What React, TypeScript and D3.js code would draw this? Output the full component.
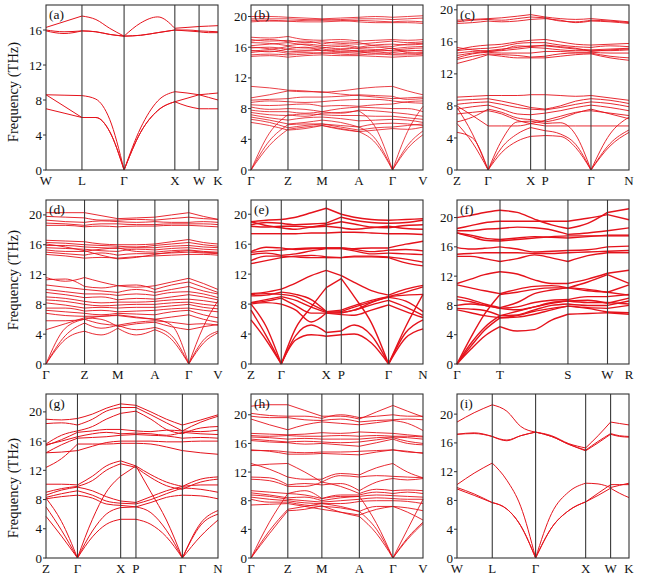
import React from 'react'
import * as d3 from 'd3'

type Band = number[]

// (a) W-L-Γ-X-W-K
const aLabels = ['W', 'L', 'Γ', 'X', 'W', 'K']
const aSym = [0, 0.209, 0.454, 0.749, 0.89, 1]
const aGrid = [0, 0.105, 0.209, 0.29, 0.37, 0.454, 0.55, 0.65, 0.749, 0.82, 0.89, 0.945, 1]
const aBands: Band[] = [
  [7.0, 6.5, 6.0, 6.0, 4.4, 0, 4.3, 6.8, 7.8, 7.3, 7.0, 7.0, 7.0],
  [8.6, 7.3, 6.0, 6.0, 4.4, 0, 4.3, 6.8, 7.8, 8.2, 8.6, 8.7, 8.8],
  [8.6, 8.55, 8.5, 8.1, 5.8, 0, 4.8, 7.9, 8.95, 8.8, 8.6, 8.3, 8.0],
  [16.3, 16.95, 17.6, 17.2, 16.2, 15.3, 16.8, 17.5, 16.2, 16.3, 16.4, 16.45, 16.5],
  [15.9, 15.6, 15.9, 15.8, 15.5, 15.3, 15.4, 15.7, 16.0, 16.0, 15.9, 15.85, 15.8],
  [16.0, 15.8, 15.9, 15.8, 15.5, 15.3, 15.4, 15.7, 16.0, 15.9, 15.8, 15.7, 15.7],
]

// (b) Γ-Z-M-A-Γ-V
const bLabels = ['Γ', 'Z', 'M', 'A', 'Γ', 'V']
const bSym = [0, 0.215, 0.413, 0.627, 0.823, 1]
const bGrid = [0, 0.107, 0.215, 0.314, 0.413, 0.52, 0.627, 0.725, 0.823, 0.91, 1]
const bBands: Band[] = [
  [20.0, 20.0, 19.9, 19.8, 19.7, 19.8, 19.9, 20.0, 19.9, 20.0, 20.1],
  [19.7, 19.7, 19.7, 19.6, 19.5, 19.6, 19.7, 19.7, 19.6, 19.7, 19.8],
  [19.5, 19.5, 19.4, 19.3, 19.3, 19.4, 19.5, 19.4, 19.3, 19.4, 19.3],
  [19.3, 19.4, 19.4, 19.5, 19.6, 19.5, 19.3, 19.2, 19.2, 19.2, 19.1],
  [17.3, 17.2, 17.4, 17.0, 16.9, 17.0, 16.8, 16.9, 17.0, 16.9, 17.0],
  [17.0, 16.8, 16.9, 16.6, 16.7, 16.5, 16.4, 16.6, 16.8, 16.6, 16.7],
  [16.6, 16.5, 16.2, 16.4, 16.2, 16.3, 16.0, 16.3, 16.4, 16.3, 16.4],
  [16.2, 16.4, 16.6, 16.3, 16.0, 15.8, 15.9, 16.0, 15.8, 16.0, 16.1],
  [15.9, 16.0, 15.7, 15.6, 15.8, 15.5, 15.6, 15.5, 15.6, 15.8, 15.9],
  [15.6, 15.4, 15.8, 16.0, 15.5, 15.7, 15.4, 15.2, 15.3, 15.5, 15.6],
  [15.3, 15.5, 15.2, 15.3, 15.2, 15.3, 15.2, 15.4, 15.1, 15.2, 15.3],
  [15.0, 15.1, 15.0, 15.1, 15.3, 15.1, 15.0, 15.1, 15.0, 15.0, 15.1],
  [14.8, 14.9, 14.7, 14.9, 15.0, 14.9, 14.9, 14.8, 14.7, 14.8, 14.9],
  [16.8, 17.0, 16.7, 16.8, 16.4, 16.7, 16.6, 16.2, 16.1, 16.4, 16.5],
  [15.5, 15.7, 16.1, 15.9, 15.9, 16.1, 15.8, 15.7, 15.5, 15.6, 15.5],
  [16.0, 15.8, 15.4, 15.5, 15.6, 15.4, 15.4, 15.6, 15.9, 15.3, 15.2],
  [10.9, 10.7, 10.4, 10.3, 10.1, 10.3, 10.6, 10.8, 10.9, 10.3, 9.8],
  [9.4, 9.8, 10.3, 10.2, 10.2, 9.9, 9.7, 9.5, 9.3, 9.4, 9.5],
  [9.1, 9.2, 9.3, 9.5, 9.5, 9.6, 9.8, 9.7, 9.6, 9.2, 9.3],
  [8.8, 9.0, 8.9, 8.8, 8.9, 9.1, 9.2, 9.2, 9.0, 8.8, 8.7],
  [8.5, 8.4, 8.5, 8.6, 8.3, 8.4, 8.3, 8.5, 8.6, 8.9, 9.0],
  [8.2, 7.9, 8.0, 7.9, 7.6, 8.0, 8.2, 8.1, 8.0, 8.0, 7.6],
  [7.8, 7.6, 7.6, 7.4, 7.6, 7.4, 7.8, 7.7, 7.5, 7.3, 7.0],
  [7.5, 7.2, 7.1, 7.3, 7.2, 7.1, 7.1, 7.0, 7.0, 6.8, 6.6],
  [7.2, 6.8, 6.5, 6.8, 6.9, 6.7, 6.4, 6.5, 6.6, 6.5, 6.2],
  [6.9, 6.5, 6.0, 6.2, 6.5, 6.2, 5.6, 6.0, 6.1, 6.0, 5.8],
  [6.6, 6.2, 5.5, 5.8, 6.0, 5.6, 5.2, 5.5, 5.6, 5.8, 6.0],
  [6.2, 5.8, 5.2, 5.4, 5.8, 5.3, 5.0, 5.2, 5.4, 5.3, 5.6],
  [0, 3.2, 5.3, 5.6, 5.8, 5.4, 5.0, 3.5, 0, 2.8, 4.6],
  [0, 3.8, 5.9, 6.0, 6.0, 5.8, 5.6, 4.0, 0, 3.2, 5.1],
  [0, 4.8, 7.2, 7.0, 7.4, 7.5, 7.7, 5.5, 0, 5.0, 8.3],
]

// (c) Z-Γ-X-P-Γ-N
const cLabels = ['Z', 'Γ', 'X', 'P', 'Γ', 'N']
const cSym = [0, 0.181, 0.428, 0.513, 0.779, 1]
const cGrid = [0, 0.09, 0.181, 0.26, 0.35, 0.428, 0.513, 0.6, 0.69, 0.779, 0.89, 1]
const cBands: Band[] = [
  [18.7, 18.8, 18.9, 19.0, 19.2, 19.4, 19.1, 18.9, 18.8, 18.9, 18.7, 18.5],
  [18.5, 18.7, 18.8, 18.7, 18.9, 19.1, 19.0, 18.6, 18.5, 18.7, 18.6, 18.4],
  [18.3, 18.4, 18.6, 18.5, 18.6, 18.8, 18.9, 18.7, 18.4, 18.6, 18.5, 18.3],
  [15.0, 15.4, 15.6, 15.7, 16.0, 16.2, 16.3, 16.0, 15.7, 15.6, 15.7, 15.8],
  [14.9, 15.1, 15.2, 15.4, 15.8, 15.9, 15.9, 15.6, 15.4, 15.3, 15.5, 15.4],
  [14.6, 14.8, 14.9, 15.1, 15.3, 15.5, 15.5, 15.3, 15.1, 15.0, 15.1, 15.2],
  [14.3, 14.6, 14.8, 14.9, 15.1, 15.3, 15.2, 15.0, 14.9, 14.9, 14.9, 15.0],
  [14.0, 14.5, 14.7, 14.6, 14.6, 14.6, 14.8, 14.8, 14.7, 14.7, 14.6, 14.6],
  [13.8, 14.2, 14.5, 14.4, 14.3, 14.1, 14.2, 14.5, 14.6, 14.6, 14.2, 14.0],
  [13.3, 13.8, 14.4, 14.2, 14.0, 14.0, 14.0, 14.2, 14.4, 14.5, 14.0, 13.7],
  [15.3, 15.0, 14.8, 15.0, 15.5, 15.4, 15.6, 15.4, 15.2, 14.8, 15.0, 15.1],
  [9.1, 9.2, 9.3, 9.3, 9.3, 9.4, 9.4, 9.3, 9.2, 9.3, 9.0, 8.7],
  [8.7, 8.8, 8.9, 8.6, 8.2, 7.8, 7.6, 8.0, 8.6, 8.9, 8.7, 8.3],
  [8.2, 8.4, 8.5, 8.2, 7.8, 7.6, 7.5, 7.8, 8.2, 8.5, 8.3, 7.9],
  [7.6, 7.9, 8.1, 7.6, 7.0, 6.9, 7.1, 7.4, 7.8, 8.1, 7.8, 7.4],
  [8.0, 6.8, 5.5, 5.5, 5.5, 5.8, 5.5, 5.5, 5.5, 5.5, 5.5, 5.5],
  [6.0, 6.6, 7.6, 7.2, 6.5, 6.3, 6.0, 6.4, 7.1, 7.6, 7.0, 6.4],
  [7.0, 7.2, 7.4, 7.0, 6.2, 5.8, 6.2, 6.7, 7.2, 7.4, 7.1, 6.8],
  [4.7, 4.0, 0, 2.2, 3.6, 4.2, 4.3, 4.2, 2.8, 0, 3.0, 4.7],
  [5.8, 3.4, 0, 2.8, 4.5, 5.3, 4.9, 4.5, 3.2, 0, 3.3, 5.0],
  [7.8, 4.5, 0, 3.7, 6.0, 6.1, 5.8, 5.9, 4.4, 0, 4.5, 6.6],
]

// (d) Γ-Z-M-A-Γ-V
const dLabels = ['Γ', 'Z', 'M', 'A', 'Γ', 'V']
const dSym = [0, 0.224, 0.417, 0.633, 0.83, 1]
const dGrid = [0, 0.112, 0.224, 0.32, 0.417, 0.525, 0.633, 0.73, 0.83, 0.915, 1]
const dBands: Band[] = [
  [20.3, 20.3, 20.3, 19.9, 19.5, 19.6, 19.7, 20.0, 20.3, 19.8, 19.4],
  [19.8, 19.7, 19.6, 19.3, 19.3, 19.4, 19.3, 19.5, 19.7, 19.5, 19.4],
  [19.3, 19.1, 19.0, 19.2, 19.1, 19.0, 19.1, 19.0, 19.0, 19.1, 19.0],
  [18.9, 18.8, 18.6, 18.8, 18.8, 18.7, 18.7, 18.8, 18.8, 18.8, 18.7],
  [18.6, 18.6, 18.4, 18.5, 18.4, 18.5, 18.5, 18.6, 18.6, 18.5, 18.4],
  [16.6, 16.5, 16.4, 16.1, 16.0, 16.0, 16.1, 16.4, 16.7, 16.3, 16.1],
  [16.3, 16.2, 16.0, 15.9, 15.8, 15.7, 15.9, 16.1, 16.3, 16.0, 15.8],
  [15.9, 15.9, 15.7, 15.6, 15.5, 15.6, 15.6, 15.8, 15.9, 15.7, 15.6],
  [15.6, 15.5, 15.4, 15.2, 15.1, 15.4, 15.3, 15.5, 15.6, 15.4, 15.3],
  [15.3, 15.1, 15.1, 15.4, 15.6, 15.1, 15.0, 15.2, 15.3, 15.1, 15.0],
  [15.0, 14.8, 14.6, 14.9, 14.6, 14.8, 14.8, 14.9, 15.0, 14.9, 14.8],
  [14.7, 14.5, 14.2, 14.3, 14.2, 14.4, 14.5, 14.6, 14.7, 14.7, 14.6],
  [16.1, 15.7, 15.2, 14.6, 14.1, 14.3, 14.7, 15.0, 15.2, 15.0, 14.9],
  [11.6, 11.1, 11.6, 11.0, 10.5, 10.3, 10.5, 11.0, 11.5, 10.8, 10.0],
  [11.3, 11.4, 10.4, 10.2, 10.5, 10.6, 10.0, 10.6, 11.0, 10.3, 9.6],
  [10.6, 10.3, 10.0, 9.8, 9.6, 10.0, 9.6, 10.0, 10.4, 9.8, 9.4],
  [10.0, 9.7, 9.4, 9.4, 9.2, 9.4, 9.2, 9.6, 9.7, 9.4, 8.9],
  [9.6, 9.3, 8.9, 9.0, 8.6, 8.8, 8.7, 9.0, 9.3, 9.0, 8.6],
  [9.0, 8.8, 8.4, 8.2, 8.3, 8.3, 8.4, 8.6, 8.7, 8.5, 8.2],
  [8.6, 8.4, 8.0, 7.8, 7.9, 8.0, 8.0, 8.2, 8.3, 8.0, 7.8],
  [8.2, 7.9, 7.5, 7.6, 7.5, 7.6, 7.6, 7.8, 8.0, 7.6, 7.4],
  [7.5, 7.5, 7.1, 7.2, 7.0, 7.1, 7.2, 7.4, 7.5, 7.2, 7.0],
  [7.2, 7.0, 6.8, 6.6, 6.8, 6.7, 6.6, 7.0, 7.2, 6.6, 6.2],
  [6.8, 6.5, 6.4, 6.4, 6.6, 6.3, 6.0, 6.3, 6.6, 6.0, 5.6],
  [5.8, 5.8, 6.0, 5.4, 5.2, 5.6, 5.8, 5.6, 5.3, 5.4, 5.2],
  [4.6, 5.4, 6.2, 6.0, 5.0, 5.4, 5.6, 5.0, 4.6, 5.0, 5.3],
  [0, 3.3, 4.4, 3.9, 4.8, 3.9, 4.6, 3.3, 0, 2.8, 4.2],
  [0, 3.8, 5.5, 4.8, 5.2, 4.6, 4.9, 3.8, 0, 3.2, 4.4],
  [0, 4.8, 6.0, 6.4, 6.5, 6.2, 6.0, 5.2, 0, 5.0, 8.5],
]

// (e) Z-Γ-X-P-Γ-N
const eLabels = ['Z', 'Γ', 'X', 'P', 'Γ', 'N']
const eSym = [0, 0.176, 0.4375, 0.525, 0.8, 1]
const eGrid = [0, 0.088, 0.176, 0.26, 0.35, 0.4375, 0.525, 0.6, 0.7, 0.8, 0.9, 1]
const eBands: Band[] = [
  [19.0, 19.2, 19.3, 19.6, 20.2, 20.8, 20.0, 19.6, 19.3, 19.2, 19.3, 19.4],
  [18.6, 18.9, 18.8, 18.6, 18.7, 18.8, 19.6, 19.2, 18.9, 18.8, 18.9, 19.2],
  [19.0, 18.5, 18.2, 18.0, 18.3, 18.6, 19.0, 18.7, 18.3, 18.2, 18.5, 18.6],
  [18.4, 18.3, 18.4, 18.4, 18.3, 18.4, 18.2, 18.0, 18.2, 18.4, 18.1, 18.0],
  [17.4, 17.4, 17.4, 17.4, 17.5, 17.5, 17.6, 17.6, 17.5, 17.4, 17.4, 17.3],
  [15.0, 15.6, 15.5, 15.3, 15.4, 15.5, 15.5, 15.4, 15.5, 15.5, 16.0, 16.4],
  [14.9, 15.1, 15.2, 15.4, 15.5, 15.5, 15.5, 15.3, 15.0, 15.2, 15.3, 15.1],
  [14.6, 14.8, 14.5, 14.7, 15.1, 15.4, 15.4, 15.1, 14.7, 14.8, 14.7, 14.6],
  [13.8, 14.4, 14.4, 14.3, 14.2, 14.2, 14.2, 14.4, 14.4, 14.3, 14.0, 13.6],
  [13.4, 13.8, 14.2, 14.4, 14.5, 14.3, 14.2, 14.3, 14.3, 14.2, 13.5, 13.1],
  [9.4, 9.6, 10.0, 10.8, 11.8, 12.5, 11.8, 10.9, 9.8, 9.2, 10.0, 10.5],
  [9.3, 9.4, 9.3, 9.0, 8.0, 7.0, 6.9, 7.2, 8.2, 9.0, 9.6, 10.3],
  [9.1, 9.2, 9.6, 9.3, 8.6, 7.0, 7.2, 7.8, 8.5, 9.0, 9.2, 9.3],
  [8.2, 8.6, 9.0, 8.5, 7.6, 6.9, 7.0, 7.6, 8.3, 8.9, 8.4, 7.0],
  [8.2, 8.4, 8.8, 7.8, 6.8, 6.8, 6.8, 7.2, 7.9, 8.5, 7.6, 6.5],
  [8.0, 8.2, 8.0, 7.2, 5.6, 6.8, 6.6, 6.5, 7.2, 7.9, 7.0, 6.2],
  [5.9, 3.2, 0, 3.2, 3.9, 3.7, 3.9, 4.0, 2.8, 0, 3.5, 4.7],
  [7.2, 3.8, 0, 3.8, 5.2, 4.2, 4.4, 5.2, 3.8, 0, 4.2, 5.9],
  [8.0, 5.0, 0, 4.8, 7.6, 10.2, 11.4, 9.0, 5.5, 0, 5.0, 9.3],
]

// (f) Γ-T-S-W-R
const fLabels = ['Γ', 'T', 'S', 'W', 'R']
const fSym = [0, 0.25, 0.645, 0.875, 1]
const fGrid = [0, 0.08, 0.16, 0.25, 0.35, 0.45, 0.55, 0.645, 0.76, 0.875, 1]
const fBands: Band[] = [
  [20.0, 20.3, 20.7, 21.0, 20.7, 19.8, 19.0, 18.5, 19.2, 20.7, 21.2],
  [18.5, 18.9, 19.3, 19.5, 19.5, 19.5, 19.5, 19.5, 19.9, 20.4, 19.7],
  [18.2, 18.2, 18.4, 18.5, 18.7, 18.6, 18.3, 17.7, 17.9, 18.2, 18.6],
  [17.9, 17.6, 17.2, 17.0, 17.2, 17.4, 17.3, 17.2, 17.4, 17.6, 17.6],
  [17.9, 17.4, 16.9, 16.8, 17.0, 17.2, 17.4, 17.5, 17.5, 17.5, 17.5],
  [15.9, 15.7, 15.8, 16.0, 15.7, 15.3, 15.4, 15.5, 15.6, 16.0, 16.1],
  [15.0, 15.1, 15.2, 15.2, 15.2, 15.1, 15.1, 15.2, 15.3, 15.4, 15.5],
  [14.7, 14.7, 14.4, 14.0, 14.4, 14.9, 14.5, 14.0, 14.8, 15.2, 15.2],
  [11.0, 11.6, 12.2, 12.6, 12.3, 11.5, 11.0, 11.0, 11.6, 12.4, 12.8],
  [10.8, 10.4, 10.0, 9.6, 10.2, 10.6, 10.7, 10.4, 11.2, 12.2, 11.0],
  [9.2, 8.8, 8.2, 7.7, 8.4, 9.6, 10.1, 10.4, 10.2, 9.8, 10.8],
  [8.8, 8.5, 8.0, 7.6, 7.8, 8.4, 8.7, 8.8, 9.2, 9.2, 9.5],
  [8.0, 8.2, 8.0, 7.6, 7.4, 7.8, 8.3, 8.6, 8.7, 8.3, 9.0],
  [7.6, 7.5, 7.3, 6.6, 6.7, 7.4, 8.0, 8.2, 8.0, 8.0, 8.6],
  [7.4, 7.0, 6.6, 6.3, 6.4, 6.8, 7.4, 7.9, 7.6, 7.1, 7.0],
  [0, 2.0, 3.8, 5.1, 4.5, 4.7, 6.0, 6.8, 6.9, 7.0, 6.8],
  [0, 2.4, 4.6, 6.3, 6.6, 7.2, 7.6, 7.9, 7.7, 7.6, 8.0],
  [0, 2.8, 5.0, 6.6, 7.2, 7.8, 8.4, 8.6, 8.4, 8.4, 8.2],
  [0, 3.6, 6.8, 9.5, 9.8, 10.2, 10.4, 10.4, 10.0, 9.8, 9.4],
]

// (g) Z-Γ-X-P-Γ-N
const gLabels = ['Z', 'Γ', 'X', 'P', 'Γ', 'N']
const gSym = [0, 0.183, 0.434, 0.523, 0.793, 1]
const gGrid = [0, 0.09, 0.183, 0.27, 0.35, 0.434, 0.523, 0.61, 0.7, 0.793, 0.9, 1]
const gBands: Band[] = [
  [19.0, 18.9, 19.1, 19.7, 20.5, 21.1, 20.9, 20.0, 19.0, 18.2, 18.9, 19.6],
  [18.4, 18.5, 18.2, 19.0, 20.1, 20.6, 20.6, 19.6, 18.5, 17.4, 18.6, 19.4],
  [15.6, 16.8, 17.4, 18.0, 19.0, 19.8, 20.1, 19.0, 17.6, 17.0, 17.8, 18.0],
  [15.4, 16.2, 17.2, 17.4, 17.6, 17.6, 17.4, 17.3, 17.5, 17.4, 17.3, 17.5],
  [15.5, 16.0, 16.6, 17.0, 17.2, 17.0, 17.1, 17.0, 16.8, 17.2, 17.0, 16.9],
  [14.4, 15.5, 16.4, 16.5, 16.6, 16.8, 16.9, 16.8, 16.7, 16.4, 16.5, 16.4],
  [14.4, 14.5, 14.7, 15.3, 15.8, 16.0, 16.0, 16.0, 15.9, 15.9, 16.0, 16.0],
  [12.4, 13.6, 15.6, 15.6, 15.6, 15.7, 15.7, 15.6, 15.2, 14.7, 14.4, 14.2],
  [10.1, 10.1, 10.0, 11.2, 12.6, 13.3, 12.6, 11.4, 10.4, 9.8, 10.8, 11.1],
  [9.0, 9.5, 9.8, 10.6, 12.0, 12.9, 12.4, 11.0, 9.9, 9.4, 10.4, 10.8],
  [8.6, 9.3, 9.7, 9.2, 8.4, 7.8, 7.6, 8.4, 9.2, 9.8, 10.0, 10.0],
  [8.3, 8.8, 9.2, 8.6, 7.8, 7.5, 7.4, 8.0, 8.8, 9.6, 9.4, 9.0],
  [8.1, 8.4, 8.6, 8.2, 7.4, 7.2, 7.0, 7.6, 8.3, 8.6, 8.5, 8.1],
  [5.7, 3.0, 0, 2.9, 4.6, 5.3, 5.3, 4.6, 2.9, 0, 3.0, 5.2],
  [7.0, 3.8, 0, 3.7, 6.0, 6.9, 7.0, 6.2, 3.8, 0, 4.5, 6.0],
  [8.2, 5.0, 0, 5.3, 9.0, 11.2, 12.6, 9.0, 5.2, 0, 4.8, 6.5],
]

// (h) Γ-Z-M-A-Γ-V
const hLabels = ['Γ', 'Z', 'M', 'A', 'Γ', 'V']
const hSym = [0, 0.214, 0.412, 0.63, 0.825, 1]
const hGrid = [0, 0.107, 0.214, 0.313, 0.412, 0.52, 0.63, 0.73, 0.825, 0.91, 1]
const hBands: Band[] = [
  [21.2, 21.4, 21.4, 20.6, 19.8, 19.8, 19.4, 20.4, 21.3, 20.5, 19.7],
  [20.2, 19.9, 19.8, 19.8, 19.5, 20.0, 19.6, 19.8, 20.0, 19.8, 19.8],
  [19.8, 19.6, 19.6, 19.3, 19.2, 19.4, 19.0, 19.2, 19.3, 19.4, 19.3],
  [19.4, 18.6, 17.9, 18.6, 19.0, 18.8, 18.6, 18.9, 19.2, 18.8, 17.8],
  [17.4, 17.3, 17.2, 17.3, 17.5, 17.4, 17.6, 17.5, 17.4, 17.2, 17.0],
  [17.1, 17.0, 17.1, 17.0, 17.0, 17.1, 17.0, 17.1, 17.0, 17.0, 16.9],
  [16.9, 16.8, 16.6, 16.7, 16.6, 16.6, 16.6, 16.8, 16.9, 16.8, 16.6],
  [16.6, 16.4, 16.2, 16.3, 16.2, 16.1, 16.2, 16.5, 16.8, 16.3, 16.0],
  [16.4, 16.2, 16.1, 15.9, 16.0, 15.8, 15.6, 16.1, 16.6, 16.0, 15.8],
  [15.1, 14.9, 14.5, 14.5, 14.6, 14.5, 14.4, 14.8, 15.1, 14.9, 14.6],
  [15.0, 15.0, 14.8, 14.7, 14.8, 14.8, 14.9, 15.0, 15.1, 14.8, 14.7],
  [13.2, 12.4, 11.3, 11.0, 11.0, 11.8, 11.6, 12.6, 13.2, 12.0, 11.2],
  [12.9, 13.1, 13.2, 12.0, 10.6, 11.5, 11.3, 11.5, 11.4, 11.3, 11.2],
  [11.3, 11.2, 10.2, 10.4, 10.2, 10.4, 9.4, 10.6, 11.1, 10.9, 11.1],
  [11.0, 10.8, 10.0, 10.0, 10.6, 10.0, 9.0, 9.6, 9.4, 9.5, 9.4],
  [9.4, 9.2, 9.0, 9.4, 8.3, 8.8, 8.8, 9.2, 9.0, 9.2, 9.0],
  [9.1, 8.8, 8.4, 8.5, 8.0, 8.4, 8.6, 8.8, 8.7, 8.6, 8.5],
  [8.8, 8.6, 8.2, 8.0, 7.8, 8.0, 8.2, 8.4, 8.3, 8.2, 8.2],
  [8.5, 8.2, 8.0, 7.7, 7.6, 7.6, 7.9, 8.0, 8.0, 7.9, 7.6],
  [8.2, 7.8, 7.8, 7.4, 7.2, 7.0, 6.5, 7.2, 7.2, 7.0, 6.6],
  [7.4, 7.5, 7.6, 7.2, 6.8, 6.4, 6.0, 6.8, 7.2, 6.4, 5.3],
  [0, 3.4, 6.6, 6.8, 7.3, 6.4, 5.8, 3.4, 0, 2.6, 4.8],
  [0, 3.8, 6.8, 7.2, 7.6, 7.2, 6.5, 4.0, 0, 2.8, 5.0],
  [0, 5.0, 9.0, 8.8, 8.3, 8.6, 8.6, 4.8, 0, 4.0, 8.2],
]

// (i) W-L-Γ-X-W-K
const iLabels = ['W', 'L', 'Γ', 'X', 'W', 'K']
const iSym = [0, 0.205, 0.457, 0.748, 0.893, 1]
const iGrid = [0, 0.1, 0.205, 0.29, 0.37, 0.457, 0.55, 0.65, 0.748, 0.82, 0.893, 0.945, 1]
const iBands: Band[] = [
  [18.9, 20.2, 21.3, 20.4, 18.3, 17.5, 17.0, 15.9, 15.3, 17.0, 18.9, 18.7, 18.5],
  [17.2, 17.4, 16.9, 16.3, 17.0, 17.5, 16.9, 15.8, 15.0, 16.2, 17.3, 17.0, 16.9],
  [17.2, 17.3, 16.9, 16.4, 17.0, 17.5, 16.9, 15.8, 14.9, 16.0, 17.2, 16.9, 16.8],
  [10.2, 11.8, 13.2, 10.8, 7.2, 0, 6.2, 9.2, 10.4, 10.3, 9.8, 10.1, 10.4],
  [9.6, 8.7, 7.7, 6.8, 4.5, 0, 4.2, 6.6, 7.8, 8.7, 9.7, 9.0, 8.4],
  [9.8, 8.9, 7.7, 6.8, 4.5, 0, 4.2, 6.6, 7.8, 9.0, 10.2, 10.2, 10.2],
]

const panelTags = ['(a)', '(b)', '(c)', '(d)', '(e)', '(f)', '(g)', '(h)', '(i)']
const panelLabels = [aLabels, bLabels, cLabels, dLabels, eLabels, fLabels, gLabels, hLabels, iLabels]
const panelSym = [aSym, bSym, cSym, dSym, eSym, fSym, gSym, hSym, iSym]
const panelGrid = [aGrid, bGrid, cGrid, dGrid, eGrid, fGrid, gGrid, hGrid, iGrid]
const panelBands = [aBands, bBands, cBands, dBands, eBands, fBands, gBands, hBands, iBands]
const freqMax = [18.86, 21.5, 20.6, 22.0, 21.9, 22.4, 22.45, 22.9, 22.8]
const ticksA = [0, 4, 8, 12, 16]
const ticksRest = [0, 4, 8, 12, 16, 20]

const W = 661
const H = 575
const colLeft = [46, 251, 457]
const colWidth = 172
const rowTop = [5, 200, 394]
const rowBottom = [170, 364, 558]
const titleY = [92, 280, 488]
const lineWidth = [1, 0.8, 0.9, 0.9, 1.4, 1.4, 1.0, 0.9, 1.0]
const RED = '#e5121b'
const textStyle: React.CSSProperties = { fontFamily: "'Liberation Serif', 'DejaVu Serif', serif" }

function Panel({ idx }: { idx: number }) {
  const col = idx % 3
  const row = Math.floor(idx / 3)
  const x0 = colLeft[col]
  const x1 = x0 + colWidth
  const y0 = rowTop[row]
  const y1 = rowBottom[row]
  const sym = panelSym[idx]
  const grid = panelGrid[idx]
  const xs = d3.scaleLinear().domain([0, 1]).range([x0, x1])
  const ys = d3.scaleLinear().domain([0, freqMax[idx]]).range([y1, y0])
  const line = d3
    .line<[number, number]>()
    .x((d) => xs(d[0]))
    .y((d) => ys(d[1]))
    .curve(d3.curveMonotoneX)
  const ticks = idx === 0 ? ticksA : ticksRest

  // each band is drawn segment by segment so kinks at the symmetry points stay sharp
  const paths: React.ReactNode[] = []
  panelBands[idx].forEach((band, bi) => {
    d3.pairs(sym).forEach(([ka, kb], si) => {
      const pts = grid
        .map((k, j) => [k, band[j]] as [number, number])
        .filter(([k]) => k >= ka - 1e-9 && k <= kb + 1e-9)
      paths.push(
        <path key={`${bi}-${si}`} d={line(pts) ?? ''} fill="none" stroke={RED} strokeWidth={lineWidth[idx]} />
      )
    })
  })

  return (
    <g>
      {paths}
      {sym.slice(1, -1).map((k, i) => (
        <line key={i} x1={xs(k)} x2={xs(k)} y1={y0} y2={y1} stroke="#3a3a3a" strokeWidth={1.1} />
      ))}
      <rect x={x0} y={y0} width={colWidth} height={y1 - y0} fill="none" stroke="#333" strokeWidth={1.1} />
      {ticks.map((t) => (
        <g key={t}>
          <line x1={x0 - 3} x2={x0} y1={ys(t)} y2={ys(t)} stroke="#333" strokeWidth={1} />
          <text x={x0 - 4} y={ys(t)} dy="0.35em" textAnchor="end" fontSize={13} style={textStyle} fill="#111">
            {t}
          </text>
        </g>
      ))}
      {panelLabels[idx].map((lab, i) => (
        <text key={i} x={xs(sym[i])} y={y1 + 15} textAnchor="middle" fontSize={13} style={textStyle} fill="#111">
          {lab}
        </text>
      ))}
      <text x={x0 + 3} y={y0 + 14} fontSize={13.5} style={textStyle} fill="#111">
        {panelTags[idx]}
      </text>
    </g>
  )
}

export default function App() {
  return (
    <svg
      width={W}
      height={H}
      viewBox={`0 0 ${W} ${H}`}
      style={{ position: 'absolute', left: 0, top: 0, background: '#fff' }}
    >
      {panelTags.map((_, i) => (
        <Panel key={i} idx={i} />
      ))}
      {titleY.map((cy, r) => (
        <text
          key={r}
          transform={`translate(18,${cy}) rotate(-90)`}
          textAnchor="middle"
          fontSize={14.5}
          style={textStyle}
          fill="#111"
        >
          Frequency (THz)
        </text>
      ))}
    </svg>
  )
}
